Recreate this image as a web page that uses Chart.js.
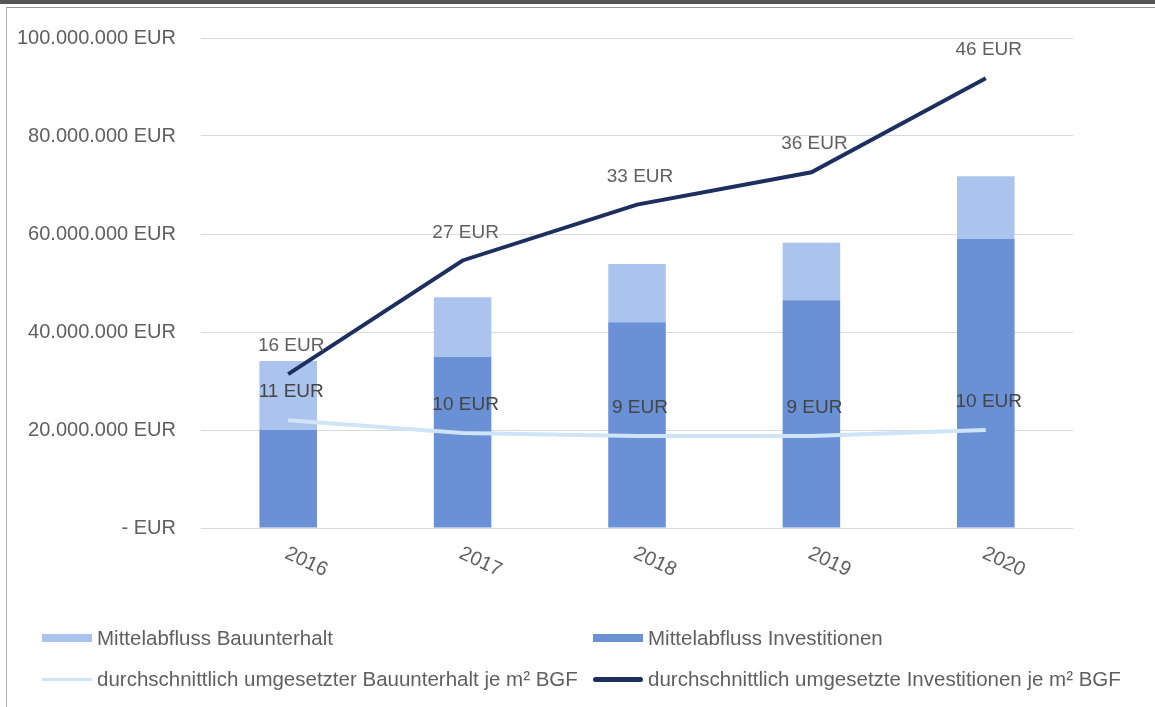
<!DOCTYPE html>
<html>
<head>
<meta charset="utf-8">
<script src="https://cdn.jsdelivr.net/npm/chart.js@4/dist/chart.umd.min.js"></script>
<style>
  html, body { margin: 0; padding: 0; background: #fff; }
  #wrap { position: relative; width: 1155px; height: 707px; overflow: hidden; font-family: 'Liberation Sans', Arial, sans-serif; }
  #chart { position: absolute; left: 0; top: 0; }
  .band { position: absolute; left: 0; top: 0; width: 1155px; height: 4px; background: #555; }
  .frameTop { position: absolute; left: 6px; top: 7px; width: 1149px; height: 1px; background: #9a9a9a; }
  .frameLeft { position: absolute; left: 6px; top: 7px; width: 1px; height: 700px; background: #b0b0b0; }
  .lg { position: absolute; display: flex; align-items: center; font-size: 20.5px; color: #5f5f5f; white-space: nowrap; }
  .lg .sym { width: 50px; margin-right: 5px; }
</style>
</head>
<body>
<div id="wrap">
  <canvas id="chart" width="1155" height="707"></canvas>
  <div class="band"></div>
  <div class="frameTop"></div>
  <div class="frameLeft"></div>
  <div id="legend"></div>
</div>
<script>
// ===== Data =====
const years = ['2016', '2017', '2018', '2019', '2020'];
const bauunterhalt = [14100000, 12200000, 11900000, 11700000, 12800000];   // top of stack
const investitionen = [20000000, 34900000, 42000000, 46500000, 59000000]; // bottom of stack
const invProM2 = [15.7, 27.3, 33.0, 36.3, 45.9];
const bauProM2 = [11.0, 9.7, 9.4, 9.4, 10.0];
const yTicks = [0, 20000000, 40000000, 60000000, 80000000, 100000000];

const C_LIGHT = '#abc4ee';
const C_DARK = '#6a90d6';
const C_NAVY = '#1c2f5e';
const C_PALE = '#cfe4f7';
const TXT = '#5f5f5f';
const FONT = "'Liberation Sans', Arial, sans-serif";

function eur(v) {
  if (v === 0) return '- EUR';
  return String(Math.round(v)).replace(/\B(?=(\d{3})+(?!\d))/g, '.') + ' EUR';
}

// rotated year labels under the axis
const yearLabels = {
  id: 'yearLabels',
  afterDraw(chart) {
    const sc = chart.scales.x, ctx = chart.ctx;
    ctx.save();
    ctx.font = '20px ' + FONT;
    ctx.fillStyle = TXT;
    ctx.textAlign = 'center';
    ctx.textBaseline = 'middle';
    years.forEach((y, i) => {
      ctx.save();
      ctx.translate(sc.getPixelForTick(i) + 18, chart.chartArea.bottom + 34);
      ctx.rotate(25 * Math.PI / 180);
      ctx.fillText(y, 0, 0);
      ctx.restore();
    });
    ctx.restore();
  }
};

// value labels above line points
const pointLabels = {
  id: 'pointLabels',
  afterDatasetsDraw(chart) {
    const ctx = chart.ctx;
    ctx.save();
    ctx.font = '19px ' + FONT;
    ctx.textAlign = 'center';
    ctx.textBaseline = 'middle';
    chart.data.datasets.forEach((ds, di) => {
      if (ds.type !== 'line') return;
      const meta = chart.getDatasetMeta(di);
      ctx.fillStyle = ds.labelColor;
      meta.data.forEach((pt, i) => {
        ctx.fillText(Math.round(ds.data[i]) + ' EUR', pt.x + 3, pt.y - 28);
      });
    });
    ctx.restore();
  }
};

const chart = new Chart(document.getElementById('chart'), {
  type: 'bar',
  data: {
    labels: years,
    datasets: [
      { type: 'line', label: 'durchschnittlich umgesetzte Investitionen je m² BGF', data: invProM2, yAxisID: 'y1',
        borderColor: C_NAVY, borderWidth: 4, pointRadius: 0, tension: 0, order: 0, labelColor: TXT },
      { type: 'line', label: 'durchschnittlich umgesetzter Bauunterhalt je m² BGF', data: bauProM2, yAxisID: 'y1',
        borderColor: C_PALE, borderWidth: 4, pointRadius: 0, tension: 0, order: 1, labelColor: '#454545' },
      { label: 'Mittelabfluss Investitionen', data: investitionen, backgroundColor: C_DARK, order: 2, stack: 's' },
      { label: 'Mittelabfluss Bauunterhalt', data: bauunterhalt, backgroundColor: C_LIGHT, order: 2, stack: 's' },
    ],
  },
  options: {
    responsive: false,
    animation: false,
    devicePixelRatio: 1,
    layout: { padding: { top: 38, left: 0, right: 82, bottom: 179 } },
    datasets: { bar: { categoryPercentage: 1, barPercentage: 0.33 } },
    plugins: { legend: { display: false }, tooltip: { enabled: false } },
    scales: {
      x: {
        stacked: true,
        grid: { display: false, drawTicks: false },
        border: { display: false },
        ticks: { display: false },
      },
      y: {
        stacked: true,
        min: 0, max: 100000000,
        afterBuildTicks: sc => { sc.ticks = yTicks.map(v => ({ value: v })); },
        afterFit: sc => { sc.width = 201; },
        grid: { color: '#d9d9d9', lineWidth: 1, drawTicks: false },
        border: { display: false },
        ticks: { padding: 25, color: TXT, font: { family: FONT, size: 20 }, callback: v => eur(v) },
      },
      y1: { display: false, min: 0, max: 50, position: 'right', grid: { display: false } },
    },
  },
  plugins: [yearLabels, pointLabels],
});

// legend in two columns, like the original
const legendOrder = [
  ['Mittelabfluss Bauunterhalt', 42, 638, { h: 8, c: C_LIGHT }],
  ['Mittelabfluss Investitionen', 593, 638, { h: 8, c: C_DARK }],
  ['durchschnittlich umgesetzter Bauunterhalt je m² BGF', 42, 679, { h: 3, c: C_PALE }],
  ['durchschnittlich umgesetzte Investitionen je m² BGF', 593, 679, { h: 5, c: C_NAVY, r: 3 }],
];
document.getElementById('legend').innerHTML = legendOrder.map(([txt, x, y, s]) => `
  <div class="lg" style="left:${x}px; top:${y - 12}px; height:24px">
    <span class="sym" style="height:${s.h}px; background:${s.c}; border-radius:${s.r || 0}px"></span>${txt}
  </div>`).join('');
</script>
</body>
</html>
